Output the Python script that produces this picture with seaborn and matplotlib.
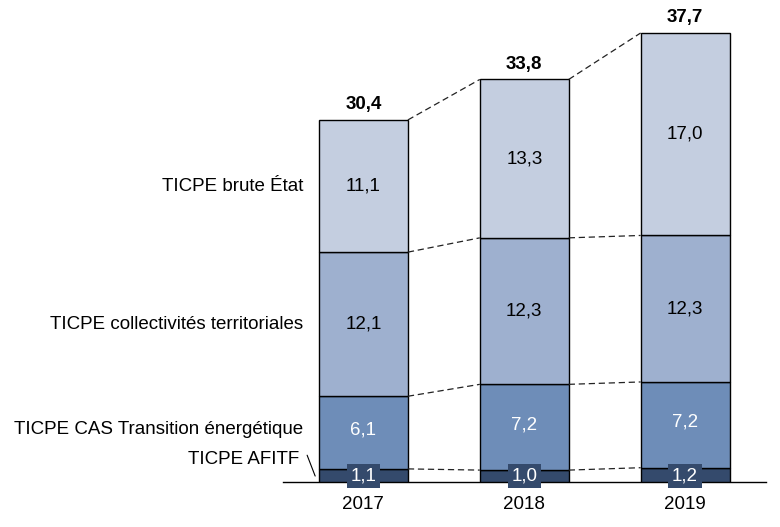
import matplotlib
matplotlib.use("Agg")
import matplotlib.pyplot as plt
import seaborn as sns
import numpy as np
import pandas as pd

years = ["2017", "2018", "2019"]
series = ["TICPE AFITF", "TICPE CAS Transition énergétique",
          "TICPE collectivités territoriales", "TICPE brute État"]
afitf = [1.1, 1.0, 1.2]
cas = [6.1, 7.2, 7.2]
collectivites = [12.1, 12.3, 12.3]
etat = [11.1, 13.3, 17.0]
totals = [30.4, 33.8, 37.7]
colors = ["#344A6C", "#6E8DB8", "#9EB0CF", "#C4CEE0"]
value_colors = ["white", "white", "black", "black"]

sns.set_theme(style="white")
plt.rcParams['font.family'] = ['Liberation Sans', 'DejaVu Sans']
plt.rcParams['text.color'] = 'black'
plt.rcParams['xtick.color'] = 'black'
plt.rcParams['axes.labelcolor'] = 'black'

FS = 13.5

fig = plt.figure(figsize=(7.8, 5.27), dpi=100)
ax = fig.add_axes([283/780, 1-482/527, (766-283)/780, 482/527 - 0.011])

data = [afitf, cas, collectivites, etat]
bottom = np.zeros(3)
width = 0.553
bounds = []
for vals, col in zip(data, colors):
    df = pd.DataFrame({"year": years, "v": vals})
    sns.barplot(data=df, x="year", y="v", color=col, bottom=bottom.copy(),
                width=width, edgecolor="black", linewidth=1.0, ax=ax,
                saturation=1, order=years)
    bottom = bottom + np.array(vals)
    bounds.append(bottom.copy())

# value labels
bottom = np.zeros(3)
for k, (vals, tc) in enumerate(zip(data, value_colors)):
    for i, v in enumerate(vals):
        y = bottom[i] + v / 2
        txt = f"{v:.1f}".replace(".", ",")
        if k == 0:
            ax.text(i, 0.5, txt, ha="center", va="center",
                    color="white", fontsize=FS, zorder=5, clip_on=False,
                    bbox=dict(boxstyle="square,pad=0.2", fc=colors[0], ec="none"))
        elif k == 1:
            ax.text(i, y + 0.2, txt, ha="center", va="center",
                    color=tc, fontsize=FS, zorder=5)
        else:
            ax.text(i, y, txt, ha="center", va="center",
                    color=tc, fontsize=FS, zorder=5)
    bottom = bottom + np.array(vals)

for i, t in enumerate(totals):
    ax.text(i, t + 0.55, f"{t:.1f}".replace(".", ","), ha="center", va="bottom",
            fontsize=FS, fontweight="bold")

# dashed connectors
for b in bounds:
    for i in range(2):
        ax.plot([i + width/2, i + 1 - width/2], [b[i], b[i+1]], ls=(0, (5, 3)),
                color="#222222", lw=0.9, zorder=1)

# series labels
lab_x = -0.376
ax.text(lab_x, 24.85, series[3], ha="right", va="center", fontsize=FS, clip_on=False)
ax.text(lab_x, 13.25, series[2], ha="right", va="center", fontsize=FS, clip_on=False)
ax.text(lab_x, 4.37, series[1], ha="right", va="center", fontsize=FS, clip_on=False)
ax.text(lab_x - 0.02, 1.85, series[0], ha="right", va="center", fontsize=FS, clip_on=False)
ax.plot([-0.35, -0.30], [2.25, 0.5], color="black", lw=0.8, clip_on=False)

ax.set_xlim(-0.5, 2.503)
ax.set_ylim(0, 482*(1 - 0.011/ (482/527)) / 11.91)
ax.set_xlabel("")
ax.set_ylabel("")
ax.set_yticks([])
ax.tick_params(axis="x", length=0, labelsize=FS, pad=10, colors="black")
for s in ["top", "right", "left"]:
    ax.spines[s].set_visible(False)
ax.spines["bottom"].set_color("black")
ax.spines["bottom"].set_linewidth(1.0)
ax.spines["bottom"].set_zorder(0.5)

fig.savefig("out.png", dpi=100)
